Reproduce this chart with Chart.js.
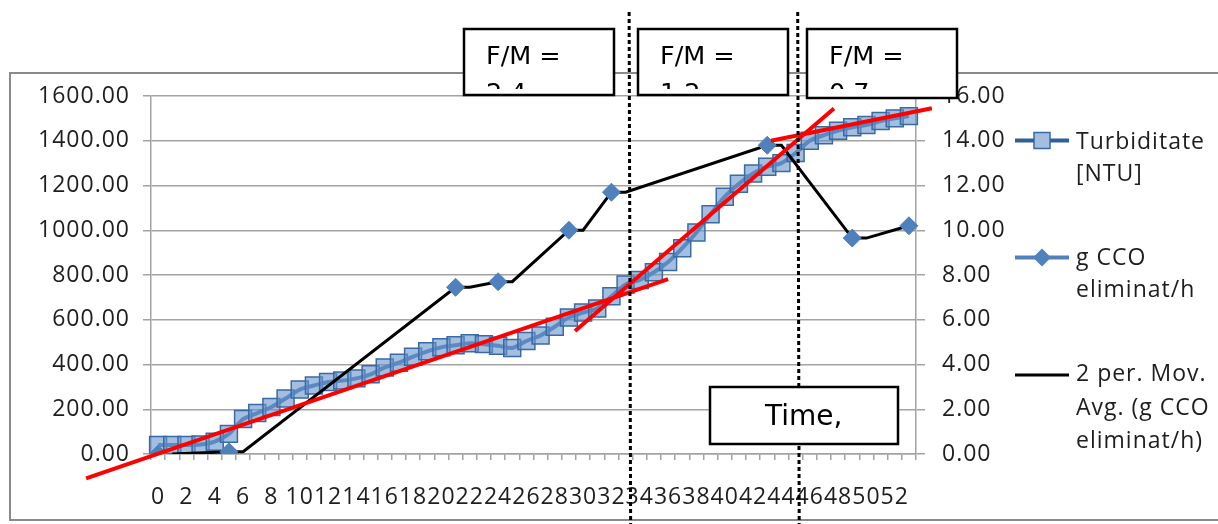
<!DOCTYPE html>
<html lang="ro">
<head>
  <meta charset="UTF-8">
  <title>Turbiditate si g CCO eliminat/h</title>
  <script src="https://cdn.jsdelivr.net/npm/chart.js"></script>
  <style>
    html, body {
      margin: 0;
      padding: 0;
      background: #fff;
    }
    .chart-container {
      position: relative;
      width: 1218px;
      height: 524px;
    }
  </style>
</head>
<body>
  <div class="chart-container">
    <canvas id="turbChart"></canvas>
  </div>

  <script>
    // Time steps on the x axis
    const categories = [
      0, 1, 2, 3, 4, 5, 6, 7, 8, 9, 10, 11, 12, 13, 14, 15, 16, 17, 18, 19,
      20, 21, 22, 23, 24, 25, 26, 27, 28, 29, 30, 31, 32, 33, 34, 35, 36, 37, 38, 39,
      40, 41, 42, 43, 44, 45, 46, 47, 48, 49, 50, 51, 52, 53
    ];

    // Turbiditate [NTU], left axis
    const turbidity = [
      40, 40, 40, 42, 55, 90, 156, 183, 210, 248,
      288, 306, 322, 328, 338, 356, 387, 408, 435, 459,
      477, 486, 495, 491, 484, 474, 505, 530, 569, 610,
      632, 650, 705, 758, 778, 812, 858, 920, 990, 1072,
      1150, 1208, 1254, 1284, 1300, 1345, 1400, 1425, 1445, 1460,
      1470, 1488, 1500, 1510
    ];

    // g CCO eliminat/h, right axis - only measured at some steps
    const ccoSteps = [0, 5, 21, 24, 29, 32, 43, 49, 53];
    const ccoValues = [0, 0.1, 7.45, 7.7, 10.0, 11.7, 13.8, 9.65, 10.2];

    // Hand-drawn trend segments: [[step, NTU], [step, NTU]]
    const trendSegments = [
      [[-5.08, -109], [36.0, 782]],
      [[29.43, 550], [47.71, 1544]],
      [[43.26, 1400], [54.62, 1545]]
    ];

    // Steps where the F/M regime changes
    const phaseBreaks = [33.25, 45.15];
    const fmLabels = ['2.4', '1.2', '0.7'];

    const yTicksLeft = { min: 0, max: 1600, step: 200 };
    const yTicksRight = { min: 0, max: 16, step: 2 };

    // spread the sparse measurements over the full step list
    const cco = categories.map(() => null);
    ccoSteps.forEach((s, i) => { cco[s] = ccoValues[i]; });

    // Excel style 2 period moving average: blanks are skipped
    const ccoMovAvg = cco.map((v, i) => {
      if (i === 0) return null;
      const pair = [cco[i - 1], v].filter(x => x !== null);
      if (!pair.length) return null;
      return pair.reduce((a, b) => a + b, 0) / pair.length;
    });

    const axisFont = { family: "'Open Sans', sans-serif", size: 23 };
    const textColor = '#1e1e1e';
    const gridColor = '#a3a3a3';
    const spacing = '1px';

    const overlay = {
      id: 'overlay',
      beforeLayout(chart) {
        chart.ctx.letterSpacing = spacing;
      },
      beforeDraw(chart) {
        const c = chart.ctx;
        c.letterSpacing = spacing;
        c.save();
        c.strokeStyle = '#8a8a8a';
        c.lineWidth = 2;
        c.strokeRect(10, 73, 1240, 447);
        c.restore();
      },
      afterDraw(chart) {
        const c = chart.ctx;
        const xs = chart.scales.x;
        const ys = chart.scales.y;

        // red trend segments
        c.save();
        c.strokeStyle = '#ff0000';
        c.lineWidth = 4;
        c.lineCap = 'butt';
        trendSegments.forEach(seg => {
          c.beginPath();
          c.moveTo(xs.getPixelForValue(seg[0][0]), ys.getPixelForValue(seg[0][1]));
          c.lineTo(xs.getPixelForValue(seg[1][0]), ys.getPixelForValue(seg[1][1]));
          c.stroke();
        });
        c.restore();

        // dotted phase separators
        c.save();
        c.strokeStyle = '#000';
        c.lineWidth = 3;
        c.setLineDash([4, 3]);
        phaseBreaks.forEach(b => {
          const px = xs.getPixelForValue(b);
          c.beginPath();
          c.moveTo(px, 12);
          c.lineTo(px + 1.5, 524);
          c.stroke();
        });
        c.restore();

        // F/M text boxes
        const boxes = [
          { x: 464, y: 29, w: 150, h: 66 },
          { x: 638, y: 29, w: 150, h: 66 },
          { x: 807, y: 29, w: 150, h: 69 }
        ];
        boxes.forEach((b, i) => {
          c.save();
          c.letterSpacing = '0px';
          c.fillStyle = '#fff';
          c.fillRect(b.x, b.y, b.w, b.h);
          c.strokeStyle = '#000';
          c.lineWidth = 2.5;
          c.strokeRect(b.x, b.y, b.w, b.h);
          c.beginPath();
          c.rect(b.x + 2, b.y + 2, b.w - 4, 87 - b.y);
          c.clip();
          c.fillStyle = '#000';
          c.font = "25.5px 'DejaVu Sans'";
          c.textBaseline = 'alphabetic';
          c.textAlign = 'left';
          c.fillText('F/M =', b.x + 22, 64);
          c.fillText(fmLabels[i], b.x + 22, 100.5);
          c.restore();
        });

        // Time box
        c.save();
        c.letterSpacing = '0px';
        c.fillStyle = '#fff';
        c.fillRect(710, 387, 188, 57);
        c.strokeStyle = '#000';
        c.lineWidth = 2.5;
        c.strokeRect(710, 387, 188, 57);
        c.fillStyle = '#000';
        c.font = "28px 'DejaVu Sans'";
        c.textAlign = 'left';
        c.fillText('Time,', 765, 425);
        c.restore();

        // legend
        const ds = chart.data.datasets;
        const lx = 1015, lw = 54, tx = 1076;
        c.save();
        c.font = "23px 'Open Sans'";
        c.fillStyle = textColor;
        c.textAlign = 'left';
        const entries = [
          { ds: ds[0], y: 140.5, lines: ['Turbiditate', '[NTU]'], base: 148.5, gap: 32.5 },
          { ds: ds[1], y: 257.5, lines: ['g CCO', 'eliminat/h'], base: 264.5, gap: 32.5 },
          { ds: ds[2], y: 375, lines: ['2 per. Mov.', 'Avg. (g CCO', 'eliminat/h)'], base: 381, gap: 33.5 }
        ];
        entries.forEach(e => {
          c.strokeStyle = e.ds.legendLine || e.ds.borderColor;
          c.lineWidth = e.ds.borderWidth;
          c.beginPath();
          c.moveTo(lx, e.y);
          c.lineTo(lx + lw, e.y);
          c.stroke();
          const cx = lx + lw / 2;
          if (e.ds.pointStyle === 'rect') {
            c.fillStyle = '#ffffff';
            c.fillRect(cx - 8, e.y - 8, 16, 16);
            c.fillStyle = e.ds.pointBackgroundColor;
            c.fillRect(cx - 8, e.y - 8, 16, 16);
            c.strokeStyle = e.ds.pointBorderColor;
            c.lineWidth = 1.5;
            c.strokeRect(cx - 8, e.y - 8, 16, 16);
          } else if (e.ds.pointStyle === 'rectRot') {
            c.fillStyle = e.ds.pointBackgroundColor;
            c.beginPath();
            c.moveTo(cx, e.y - 9);
            c.lineTo(cx + 9, e.y);
            c.lineTo(cx, e.y + 9);
            c.lineTo(cx - 9, e.y);
            c.closePath();
            c.fill();
          }
          c.fillStyle = textColor;
          e.lines.forEach((t, k) => c.fillText(t, tx, e.base + k * e.gap));
        });
        c.restore();
      }
    };

    const ctx = document.getElementById('turbChart').getContext('2d');

    const turbChart = new Chart(ctx, {
      type: 'line',
      data: {
        labels: categories,
        datasets: [
          {
            label: 'Turbiditate [NTU]',
            data: turbidity,
            yAxisID: 'y',
            borderColor: '#4a7dba',
            legendLine: '#2f5f98',
            borderWidth: 4,
            tension: 0.3,
            pointStyle: 'rect',
            pointRadius: 12,
            pointBackgroundColor: 'rgba(104,146,202,0.6)',
            pointBorderColor: '#3a6aa3',
            pointBorderWidth: 1.5,
            order: 3
          },
          {
            label: 'g CCO eliminat/h',
            data: cco,
            yAxisID: 'y1',
            borderColor: '#4f81bd',
            borderWidth: 4,
            spanGaps: false,
            pointStyle: 'rectRot',
            pointRadius: 9,
            pointBackgroundColor: '#4f81bd',
            pointBorderColor: '#4f81bd',
            pointBorderWidth: 1,
            order: 1
          },
          {
            label: '2 per. Mov. Avg. (g CCO eliminat/h)',
            data: ccoMovAvg,
            yAxisID: 'y1',
            borderColor: '#000000',
            borderWidth: 3,
            spanGaps: true,
            pointRadius: 0,
            order: 2
          }
        ]
      },
      options: {
        responsive: true,
        maintainAspectRatio: false,
        animation: false,
        layout: { padding: { left: 0, top: 96, right: 212, bottom: 0 } },
        plugins: {
          legend: { display: false },
          tooltip: { enabled: false }
        },
        scales: {
          x: {
            type: 'category',
            offset: true,
            grid: {
              offset: true,
              drawOnChartArea: false,
              tickLength: 6,
              color: gridColor,
              lineWidth: 1.5
            },
            border: { color: gridColor, width: 1.5 },
            ticks: {
              autoSkip: false,
              maxRotation: 0,
              minRotation: 0,
              padding: 24,
              color: textColor,
              font: axisFont,
              callback: (v, i) => (i % 2 === 0 ? String(categories[i]) : '')
            },
            afterFit: s => { s.height = 70; }
          },
          y: {
            position: 'left',
            min: yTicksLeft.min,
            max: yTicksLeft.max,
            grid: { color: gridColor, lineWidth: 1.5, tickLength: 8 },
            border: { color: gridColor, width: 1.5 },
            ticks: {
              stepSize: yTicksLeft.step,
              padding: 13,
              color: textColor,
              font: axisFont,
              callback: v => v.toFixed(2)
            },
            afterFit: s => { s.width = 151; }
          },
          y1: {
            position: 'right',
            min: yTicksRight.min,
            max: yTicksRight.max,
            grid: { drawOnChartArea: false, color: gridColor, lineWidth: 1.5, tickLength: 9 },
            border: { color: gridColor, width: 1.5 },
            ticks: {
              stepSize: yTicksRight.step,
              padding: 17,
              color: textColor,
              font: axisFont,
              callback: v => v.toFixed(2)
            },
            afterFit: s => { s.width = 90; }
          }
        }
      },
      plugins: [overlay]
    });
  </script>
</body>
</html>
